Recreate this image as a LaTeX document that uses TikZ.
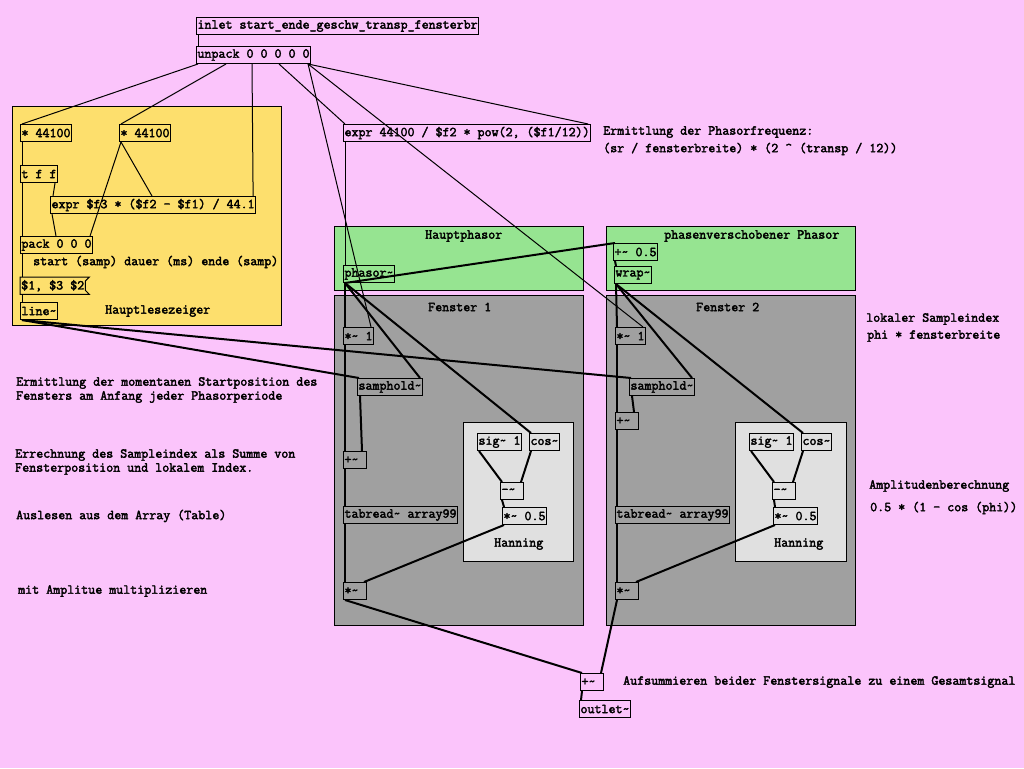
\documentclass[tikz,border=0pt]{standalone}
\usepackage{fontspec}
\setmonofont{Latin Modern Mono}[AutoFakeBold=2.5]
\usetikzlibrary{calc}
\definecolor{pdpink}{RGB}{251,196,251}
\definecolor{pdyellow}{RGB}{253,223,109}
\definecolor{pdgreen}{RGB}{150,228,145}
\definecolor{pdgray}{RGB}{160,160,160}
\definecolor{pdlight}{RGB}{224,224,224}
\newcommand{\pdfnt}{\ttfamily\bfseries\fontsize{13.6}{15}\selectfont}
\newcommand{\tld}{\textasciitilde}

\begin{document}
\begin{tikzpicture}[x=1pt, y=-1pt, font=\pdfnt,
  obj/.style={draw, line width=1pt, anchor=north west, minimum height=17pt, inner xsep=1pt, inner ysep=0pt},
  short/.style={obj, text width=21pt},
  msgbox/.style={anchor=north west, minimum height=17pt, inner xsep=1pt, inner ysep=0pt},
  note/.style={anchor=west, inner sep=0pt},
  area/.style={draw, line width=1pt},
  ctl/.style={line width=1pt},
  sig/.style={line width=2pt}]
\fill[pdpink] (0,0) rectangle (1024,768);
\useasboundingbox (0,0) rectangle (1024,768);

\draw[area, fill=pdyellow] (12,106) rectangle (281,325);
\draw[area, fill=pdgreen] (334,226) rectangle (583,290);
\draw[area, fill=pdgreen] (606,226) rectangle (855,290);
\draw[area, fill=pdgray] (334,295) rectangle (583,625);
\draw[area, fill=pdgray] (606,295) rectangle (855,625);
\draw[area, fill=pdlight] (463,422) rectangle (573,561);
\draw[area, fill=pdlight] (735,422) rectangle (846,561);

\node[note] (lhaupt) at (425,236) {Hauptphasor};
\node[note] (lverschob) at (664,236) {phasenverschobener Phasor};
\node[note] (lfenster1) at (428,307) {Fenster 1};
\node[note] (lfenster2) at (696,307) {Fenster 2};
\node[note] (lhann1) at (494,544) {Hanning};
\node[note] (lhann2) at (774,544) {Hanning};

\node[obj] (inl) at (196,17) {inlet start\_ende\_geschw\_transp\_fensterbr};
\node[obj] (unp) at (196,46) {unpack 0 0 0 0 0};
\node[obj] (mula) at (20,124) {* 44100};
\node[obj] (mulb) at (119,124) {* 44100};
\node[obj] (tff) at (20,165) {t f f};
\node[obj] (expra) at (50,196) {expr \$f3 * (\$f2 - \$f1) / 44.1};
\node[obj] (pck) at (20,236) {pack 0 0 0};
\node[msgbox] (msg) at (20,277) {\$1, \$3 \$2};
\draw[ctl] (msg.north west) -- ([xshift=4pt]msg.north east) -- ([yshift=-4pt]msg.north east)
  -- ([yshift=4pt]msg.south east) -- ([xshift=4pt]msg.south east) -- (msg.south west) -- cycle;
\node[obj] (lin) at (20,302) {line\tld};
\node[note] (cstart) at (33,262) {start (samp) dauer (ms) ende (samp)};
\node[note] (czeiger) at (105,311) {Hauptlesezeiger};

\node[obj] (exprf) at (343,124) {expr 44100 / \$f2 * pow(2, (\$f1/12))};
\node[note] (cfreq) at (603,132) {Ermittlung der Phasorfrequenz:};
\node[note] (cformel) at (603,149) {(sr / fensterbreite) * (2 \textasciicircum{} (transp / 12))};

\node[obj] (phs) at (343,265) {phasor\tld};
\node[obj] (addhalf) at (613,243) {+\tld{} 0.5};
\node[obj] (wrp) at (614,266) {wrap\tld};

\node[obj] (mulone1) at (343,327) {*\tld{} 1};
\node[obj] (samp1) at (357,378) {samphold\tld};
\node[short] (add1) at (343,451) {+\tld};
\node[obj] (tab1) at (343,506) {tabread\tld{} array99};
\node[short] (mul1) at (343,582) {*\tld};
\node[obj] (sig1) at (477,433) {sig\tld{} 1};
\node[obj] (cos1) at (529,433) {cos\tld};
\node[short] (sub1) at (500,482) {-\tld};
\node[obj] (half1) at (502,507) {*\tld{} 0.5};

\node[obj] (mulone2) at (615,327) {*\tld{} 1};
\node[obj] (samp2) at (629,378) {samphold\tld};
\node[short] (add2) at (615,412) {+\tld};
\node[obj] (tab2) at (615,506) {tabread\tld{} array99};
\node[short] (mul2) at (615,582) {*\tld};
\node[obj] (sig2) at (749,433) {sig\tld{} 1};
\node[obj] (cos2) at (801,433) {cos\tld};
\node[short] (sub2) at (772,482) {-\tld};
\node[obj] (half2) at (773,507) {*\tld{} 0.5};

\node[short] (sum) at (580,673) {+\tld};
\node[obj] (outl) at (579,700) {outlet\tld};

\node[note] (cstartpos) at (16,383) {Ermittlung der momentanen Startposition des};
\node[note] (cstartpos2) at (16,397) {Fensters am Anfang jeder Phasorperiode};
\node[note] (cindex) at (15,455) {Errechnung des Sampleindex als Summe von};
\node[note] (cindex2) at (15,469) {Fensterposition und lokalem Index.};
\node[note] (clesen) at (16,516) {Auslesen aus dem Array (Table)};
\node[note] (cmult) at (18,591) {mit Amplitue multiplizieren};
\node[note] (clokal) at (866,319) {lokaler Sampleindex};
\node[note] (clokal2) at (867,336) {phi * fensterbreite};
\node[note] (camp) at (869,486) {Amplitudenberechnung};
\node[note] (camp2) at (870,508) {0.5 * (1 - cos (phi))};
\node[note] (csum) at (623,682) {Aufsummieren beider Fenstersignale zu einem Gesamtsignal};

\draw[ctl] ([xshift=2pt]inl.south west) -- ([xshift=2pt]unp.north west);
\draw[ctl] ([xshift=2pt]unp.south west) -- ([xshift=2pt]mula.north west);
\draw[ctl] ([xshift=30pt]unp.south west) -- ([xshift=2pt]mulb.north west);
\draw[ctl] ([xshift=56pt]unp.south west) -- ([xshift=-3pt]expra.north east);
\draw[ctl] ([xshift=83pt]unp.south west) -- ([xshift=2pt]exprf.north west);
\draw[ctl] ([xshift=-3pt]unp.south east) -- ([xshift=-3pt]exprf.north east);
\draw[ctl] ([xshift=-3pt]unp.south east) -- ([xshift=-3pt]mulone1.north east);
\draw[ctl] ([xshift=-3pt]unp.south east) -- ([xshift=-3pt]mulone2.north east);

\draw[ctl] ([xshift=2pt]mula.south west) -- ([xshift=2pt]tff.north west);
\draw[ctl] ([xshift=2pt]tff.south west) -- ([xshift=2pt]pck.north west);
\draw[ctl] ([xshift=-3pt]tff.south east) -- ([xshift=3pt]expra.north west);
\draw[ctl] ([xshift=2pt]expra.south west) -- ([xshift=36pt]pck.north west);
\draw[ctl] ([xshift=2pt]mulb.south west) -- ([xshift=102pt]expra.north west);
\draw[ctl] ([xshift=2pt]mulb.south west) -- ([xshift=-3pt]pck.north east);
\draw[ctl] ([xshift=2pt]pck.south west) -- ([xshift=2pt]msg.north west);
\draw[ctl] ([xshift=2pt]msg.south west) -- ([xshift=2pt]lin.north west);
\draw[sig] ([xshift=2pt]lin.south west) -- ([xshift=2pt]samp1.north west);
\draw[sig] ([xshift=2pt]lin.south west) -- ([xshift=2pt]samp2.north west);

\draw[ctl] ([xshift=2pt]exprf.south west) -- ([xshift=2pt]phs.north west);
\draw[sig] ([xshift=2pt]phs.south west) -- ([xshift=2pt]addhalf.north west);
\draw[sig] ([xshift=2pt]addhalf.south west) -- ([xshift=2pt]wrp.north west);

\draw[sig] ([xshift=2pt]phs.south west) -- ([xshift=2pt]mulone1.north west);
\draw[sig] ([xshift=2pt]phs.south west) -- ([xshift=-3pt]samp1.north east);
\draw[sig] ([xshift=2pt]phs.south west) -- ([xshift=2pt]cos1.north west);
\draw[sig] ([xshift=2pt]mulone1.south west) -- ([xshift=2pt]add1.north west);
\draw[sig] ([xshift=3pt]samp1.south west) -- ([xshift=-5pt]add1.north east);
\draw[sig] ([xshift=2pt]add1.south west) -- ([xshift=2pt]tab1.north west);
\draw[sig] ([xshift=2pt]tab1.south west) -- ([xshift=2pt]mul1.north west);
\draw[sig] ([xshift=2pt]sig1.south west) -- ([xshift=2pt]sub1.north west);
\draw[sig] ([xshift=2pt]cos1.south west) -- ([xshift=-3pt]sub1.north east);
\draw[sig] ([xshift=2pt]sub1.south west) -- ([xshift=2pt]half1.north west);
\draw[sig] ([xshift=2pt]half1.south west) -- ([xshift=-3pt]mul1.north east);

\draw[sig] ([xshift=2pt]wrp.south west) -- ([xshift=2pt]mulone2.north west);
\draw[sig] ([xshift=2pt]wrp.south west) -- ([xshift=-3pt]samp2.north east);
\draw[sig] ([xshift=2pt]wrp.south west) -- ([xshift=2pt]cos2.north west);
\draw[sig] ([xshift=2pt]mulone2.south west) -- ([xshift=2pt]add2.north west);
\draw[sig] ([xshift=3pt]samp2.south west) -- ([xshift=-5pt]add2.north east);
\draw[sig] ([xshift=2pt]add2.south west) -- ([xshift=2pt]tab2.north west);
\draw[sig] ([xshift=2pt]tab2.south west) -- ([xshift=2pt]mul2.north west);
\draw[sig] ([xshift=2pt]sig2.south west) -- ([xshift=2pt]sub2.north west);
\draw[sig] ([xshift=2pt]cos2.south west) -- ([xshift=-3pt]sub2.north east);
\draw[sig] ([xshift=2pt]sub2.south west) -- ([xshift=2pt]half2.north west);
\draw[sig] ([xshift=2pt]half2.south west) -- ([xshift=-3pt]mul2.north east);

\draw[sig] ([xshift=2pt]mul1.south west) -- ([xshift=2pt]sum.north west);
\draw[sig] ([xshift=2pt]mul2.south west) -- ([xshift=-3pt]sum.north east);
\draw[sig] ([xshift=2pt]sum.south west) -- ([xshift=2pt]outl.north west);
\end{tikzpicture}
\end{document}
